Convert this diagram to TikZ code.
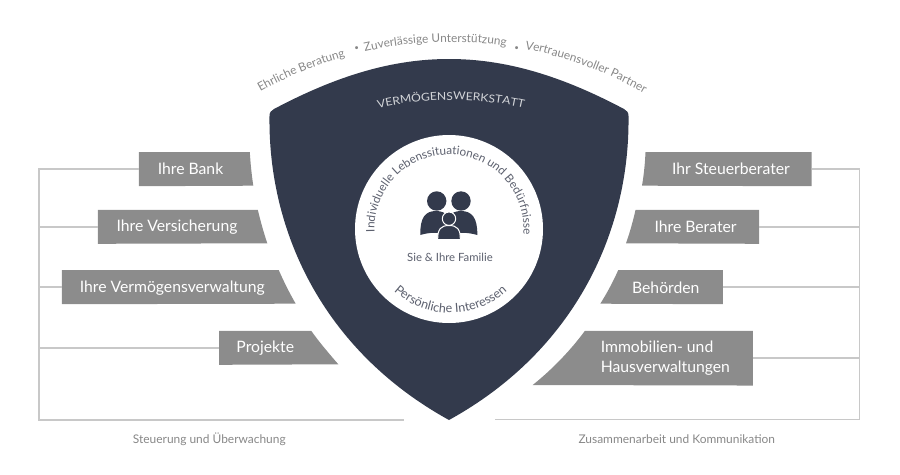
\documentclass[tikz,border=0pt]{standalone}
\usepackage{fontspec}
\setmainfont{Lato}
\newfontfamily\werkstattfont[FakeStretch=1.11]{Lato}
\usetikzlibrary{decorations.text}
\definecolor{shield}{RGB}{51,58,76}
\definecolor{boxgray}{RGB}{140,140,140}
\definecolor{framegray}{RGB}{200,200,200}
\definecolor{softgray}{RGB}{135,135,135}
\definecolor{familygray}{RGB}{92,96,110}
\tikzset{every picture/.style={line width=0.75pt}}
\tikzset{
  framing/.style={draw=framegray,line width=1.2pt},
  tagbox/.style={inner sep=0pt},
  tagtext/.style={inner sep=0.75pt,text=white,font=\fontsize{11.8}{15}\selectfont},
  caption/.style={inner sep=0.75pt,text=softgray,font=\fontsize{8.95}{10}\selectfont},
  dot/.style={inner sep=0pt,text=softgray,font=\fontsize{6}{7}\selectfont},
  bent/.style={decorate,decoration={text along path,text align=center}}
}
\begin{document}
\begin{tikzpicture}[x=0.75pt,y=0.75pt,yscale=-1,xscale=1]
\useasboundingbox (0,0) rectangle (900,475);

%Shape: Shield
\fill [shield] (269.5,116) .. controls (269.5,112.5) and (271,110.5) .. (274,109) .. controls (340,74) and (395,59) .. (449,59) .. controls (503,59) and (558,74) .. (624,109) .. controls (627,110.5) and (628.5,112.5) .. (628.5,116) .. controls (630,230) and (576,350) .. (449,420) .. controls (322,350) and (268,230) .. (269.5,116) -- cycle ;
%Shape: Circle
\node (lebenskreis) [circle,fill=white,minimum size=141pt,inner sep=0pt] at (449,229) {};

%Left tags
\node (bank) [tagbox,minimum width=82.5pt,minimum height=24.75pt] at (194.3,169.2) {};
\fill [boxgray] (bank.north west) -- (bank.north east) .. controls (250.5,163) and (251.5,174) .. (253.3,185.7) -- (bank.south west) -- cycle ;
\node (versicherung) [tagbox,minimum width=119.25pt,minimum height=24.75pt] at (177.8,226.8) {};
\fill [boxgray] (versicherung.north west) -- (versicherung.north east) .. controls (260.5,221) and (263.5,232) .. (267.3,243.3) -- (versicherung.south west) -- cycle ;
\node (verwaltung) [tagbox,minimum width=162pt,minimum height=24.75pt] at (170.3,287.2) {};
\fill [boxgray] (verwaltung.north west) -- (verwaltung.north east) .. controls (284,282) and (289.5,293) .. (295.7,303.7) -- (verwaltung.south west) -- cycle ;
\node (projekte) [tagbox,minimum width=68.25pt,minimum height=24.75pt] at (265.2,347.8) {};
\fill [boxgray] (projekte.north west) -- (projekte.north east) .. controls (319.5,342.5) and (329,353.5) .. (338.3,364.3) -- (projekte.south west) -- cycle ;

%Right tags
\node (steuerberater) [tagbox,minimum width=123.75pt,minimum height=24.75pt] at (728.5,169.2) {};
\fill [boxgray] (steuerberater.north east) -- (steuerberater.north west) .. controls (645,163) and (644,174) .. (642,185.7) -- (steuerberater.south east) -- cycle ;
\node (berater) [tagbox,minimum width=92pt,minimum height=24.75pt] at (697.4,226.8) {};
\fill [boxgray] (berater.north east) -- (berater.north west) .. controls (633,221) and (630,232) .. (626,243.3) -- (berater.south east) -- cycle ;
\node (behoerden) [tagbox,minimum width=77.75pt,minimum height=24.75pt] at (670.5,287.2) {};
\fill [boxgray] (behoerden.north east) -- (behoerden.north west) .. controls (613,282) and (607,293) .. (600.3,303.7) -- (behoerden.south east) -- cycle ;
\node (immobilien) [tagbox,minimum width=125.25pt,minimum height=40.25pt] at (668.9,358.2) {};
\fill [boxgray] (immobilien.north east) -- (immobilien.north west) .. controls (570,351) and (552,369.5) .. (532.7,385) -- (immobilien.south east) -- cycle ;

%Frame left
\coordinate (linksoben) at (38.7,169.2) ;
\coordinate (linksunten) at (38.7,420) ;
\coordinate (linksende) at (404,420) ;
\draw [framing] (bank.west) -- (linksoben) -- (linksunten) -- (linksende) ;
\draw [framing] (versicherung.west) -- (linksoben |- versicherung.west) ;
\draw [framing] (verwaltung.west) -- (linksoben |- verwaltung.west) ;
\draw [framing] (projekte.west) -- (linksoben |- projekte.west) ;

%Frame right
\coordinate (rechtsoben) at (859.3,169.2) ;
\coordinate (rechtsunten) at (859.3,419.5) ;
\coordinate (rechtsende) at (495,419.5) ;
\draw [framing] (steuerberater.east) -- (rechtsoben) -- (rechtsunten) -- (rechtsende) ;
\draw [framing] (berater.east) -- (rechtsoben |- berater.east) ;
\draw [framing] (behoerden.east) -- (rechtsoben |- behoerden.east) ;
\draw [framing] (immobilien.east) -- (rechtsoben |- immobilien.east) ;

%Shape: Family
\fill [shield] (436.7,201) circle [radius=9.7] ;
\fill [shield] (461,201) circle [radius=9.7] ;
\fill [shield] (420.3,235) .. controls (420,218) and (425,211) .. (436,211) .. controls (447,211) and (452,218) .. (452,235) .. controls (440,232) and (430,232) .. (420.3,235) -- cycle ;
\fill [shield] (477.3,235) .. controls (477.6,218) and (472,211) .. (461,211) .. controls (450,211) and (445,218) .. (445,235) .. controls (457,232) and (467,232) .. (477.3,235) -- cycle ;
\draw [white,fill=shield] (449,218.7) circle [radius=6.7] ;
\draw [white,fill=shield] (437.7,239.5) .. controls (437.5,229) and (441,225.5) .. (449,225.5) .. controls (457,225.5) and (460.5,229) .. (460.3,239.5) -- cycle ;

% Text Node
\draw (450,257) node (familie) [inner sep=0.75pt,text=familygray,font=\fontsize{8.5}{10}\selectfont] {Sie \& Ihre Familie};
% Text Node
\draw (190.5,168.5) node (banktext) [tagtext] {Ihre Bank};
% Text Node
\draw (177,227) node (versicherungtext) [tagtext] {Ihre Versicherung};
% Text Node
\draw (172.3,288) node (verwaltungtext) [tagtext] {Ihre Vermögensverwaltung};
% Text Node
\draw (265.3,348) node (projektetext) [tagtext] {Projekte};
% Text Node
\draw (731,168.5) node (steuerberatertext) [tagtext] {Ihr Steuerberater};
% Text Node
\draw (695.6,227) node (beratertext) [tagtext] {Ihre Berater};
% Text Node
\draw (665.8,288) node (behoerdentext) [tagtext] {Behörden};
% Text Node
\draw (599.3,358.5) node (immobilientext) [tagtext,anchor=west,align=left] {Immobilien- und\\Hausverwaltungen};
% Text Node
\draw (209.3,439) node (steuerungtext) [caption] {Steuerung und Überwachung};
% Text Node
\draw (676.8,439) node (zusammentext) [caption] {Zusammenarbeit und Kommunikation};
% Text Node
\draw (356.7,49) node (punkta) [dot] {•};
% Text Node
\draw (516.7,48.5) node (punktb) [dot] {•};

%Text on arcs
\path [bent,decoration={text={|\fontsize{8.85}{11}\selectfont\color{softgray}|Ehrliche Beratung}}] (451,432) ++(240.3:390) arc [start angle=240.3,end angle=254.7,radius=390] ;
\path [bent,decoration={text={|\fontsize{8.85}{11}\selectfont\color{softgray}|Zuverlässige Unterstützung}}] (451,432) ++(257.1:390) arc [start angle=257.1,end angle=278.3,radius=390] ;
\path [bent,decoration={text={|\fontsize{8.85}{11}\selectfont\color{softgray}|Vertrauensvoller Partner}}] (451,432) ++(280.9:390) arc [start angle=280.9,end angle=299.7,radius=390] ;
\path [bent,decoration={text={|\werkstattfont\fontsize{8.2}{10}\selectfont\color{white!78!shield}|VERMÖGENSWERKSTATT}}] (451,432) ++(255:332) arc [start angle=255,end angle=285,radius=332] ;
\path [bent,decoration={text={|\fontsize{8.8}{11}\selectfont\color{familygray}|Individuelle Lebenssituationen und Bedürfnisse}}] (449,229) ++(176:74.5) arc [start angle=176,end angle=366,radius=74.5] ;
\path [bent,decoration={text={|\fontsize{9.4}{11}\selectfont\color{familygray}|Persönliche Interessen}}] (450.5,229) ++(135:84) arc [start angle=135,end angle=45,radius=84] ;
\end{tikzpicture}
\end{document}
